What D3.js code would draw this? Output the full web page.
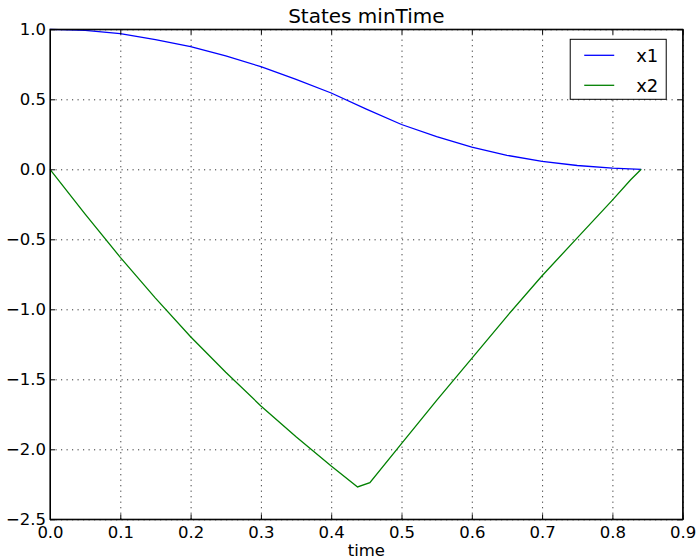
<!DOCTYPE html>
<html>
<head>
<meta charset="utf-8">
<script src="https://cdn.jsdelivr.net/npm/d3@7"></script>
<style>
  body { margin: 0; background: #fff; }
  svg { display: block; font-family: "DejaVu Sans", sans-serif; }
  .grid line { stroke: #000; stroke-width: 0.8; stroke-dasharray: 1.2,4.3; }
  .grid .domain { display: none; }
  .axis text { font-family: "DejaVu Sans", sans-serif; font-size: 16.5px; fill: #000; }
  .axis line, .axis path { stroke: #000; stroke-width: 1; }
</style>
</head>
<body>
<svg width="699" height="560"></svg>
<script>
// time samples and states
const timeX1 = [0, 0.05, 0.1, 0.15, 0.2, 0.25, 0.3, 0.35, 0.4, 0.45, 0.5, 0.55, 0.6, 0.65, 0.7, 0.75, 0.8, 0.841];
const x1 = [1.0, 0.992, 0.969, 0.927, 0.876, 0.81, 0.733, 0.643, 0.545, 0.43, 0.32, 0.233, 0.158, 0.10, 0.057, 0.027, 0.009, 0.0];

const timeX2 = [0, 0.05, 0.1, 0.15, 0.2, 0.25, 0.3, 0.35, 0.4, 0.4375, 0.455, 0.5, 0.55, 0.6, 0.65, 0.7, 0.75, 0.8, 0.826, 0.841];
const x2 = [0, -0.32, -0.629, -0.92, -1.196, -1.45, -1.69, -1.91, -2.12, -2.269, -2.238, -1.96, -1.65, -1.35, -1.05, -0.76, -0.49, -0.22, -0.075, 0];

const xTicks = [0, 0.1, 0.2, 0.3, 0.4, 0.5, 0.6, 0.7, 0.8, 0.9];
const yTicks = [1.0, 0.5, 0.0, -0.5, -1.0, -1.5, -2.0, -2.5];
const seriesNames = ['x1', 'x2'];
const seriesColors = ['#0000ff', '#008000'];

const svg = d3.select('svg');
const width = 699;
const height = 560;
const margin = { top: 29.3, right: 16.3, bottom: 40.7, left: 50 };
const innerWidth = width - margin.left - margin.right;
const innerHeight = height - margin.top - margin.bottom;

const x = d3.scaleLinear().domain([0, 0.9]).range([0, innerWidth]);
const y = d3.scaleLinear().domain([-2.5, 1.0]).range([innerHeight, 0]);
const fmt = d3.format('.1f');

const g = svg.append('g')
	.attr('transform', `translate(${margin.left},${margin.top})`);

// dotted grid
g.append('g')
	.attr('class', 'grid')
	.attr('transform', `translate(0,${innerHeight})`)
	.call(d3.axisBottom(x).tickValues(xTicks).tickSize(-innerHeight).tickFormat(''))
	.selectAll('text').remove();
g.append('g')
	.attr('class', 'grid')
	.call(d3.axisLeft(y).tickValues(yTicks).tickSize(-innerWidth).tickFormat(''))
	.selectAll('text').remove();

// lines
const line = d3.line().x((d) => x(d[0])).y((d) => y(d[1]));
const series = [d3.zip(timeX1, x1), d3.zip(timeX2, x2)];
series.forEach((s, i) => {
	g.append('path')
		.datum(s)
		.attr('fill', 'none')
		.attr('stroke', seriesColors[i])
		.attr('stroke-width', 1.3)
		.attr('d', line);
});

// axes with inward ticks on all sides
g.append('g')
	.attr('class', 'axis')
	.attr('transform', `translate(0,${innerHeight})`)
	.call(d3.axisBottom(x).tickValues(xTicks).tickFormat(fmt).tickSize(-5).tickSizeOuter(0).tickPadding(7));
g.append('g')
	.attr('class', 'axis')
	.call(d3.axisLeft(y).tickValues(yTicks).tickFormat(fmt).tickSize(-5).tickSizeOuter(0).tickPadding(4));
g.append('g')
	.attr('class', 'axis')
	.call(d3.axisTop(x).tickValues(xTicks).tickFormat('').tickSize(-5).tickSizeOuter(0))
	.selectAll('text').remove();
g.append('g')
	.attr('class', 'axis')
	.attr('transform', `translate(${innerWidth},0)`)
	.call(d3.axisRight(y).tickValues(yTicks).tickFormat('').tickSize(-5).tickSizeOuter(0))
	.selectAll('text').remove();

// frame
g.append('rect')
	.attr('width', innerWidth)
	.attr('height', innerHeight)
	.attr('fill', 'none')
	.attr('stroke', '#000')
	.attr('stroke-width', 1.2);

// title and label
svg.append('text')
	.attr('x', margin.left + innerWidth / 2)
	.attr('y', 22.5)
	.attr('text-anchor', 'middle')
	.style('font-size', '20px')
	.text('States minTime');
svg.append('text')
	.attr('x', margin.left + innerWidth / 2)
	.attr('y', 556)
	.attr('text-anchor', 'middle')
	.style('font-size', '16.5px')
	.text('time');

// legend
const legend = g.append('g')
	.attr('transform', `translate(${x(0.74)},${10})`);
legend.append('rect')
	.attr('width', 96)
	.attr('height', 60)
	.attr('fill', '#fff')
	.attr('stroke', '#000')
	.attr('stroke-width', 1);
seriesNames.forEach((name, i) => {
	const yy = 16 + i * 30;
	legend.append('line')
		.attr('x1', 14).attr('x2', 44)
		.attr('y1', yy).attr('y2', yy)
		.attr('stroke', seriesColors[i])
		.attr('stroke-width', 1.3);
	legend.append('text')
		.attr('x', 66)
		.attr('y', yy + 7)
		.style('font-size', '18px')
		.text(name);
});
</script>
</body>
</html>
